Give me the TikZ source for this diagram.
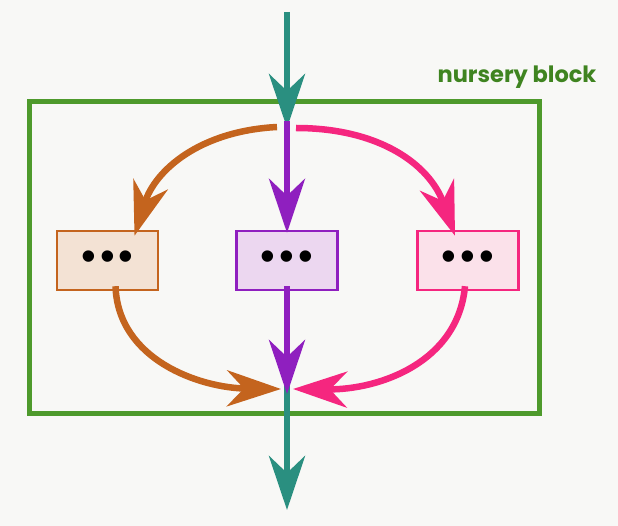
\documentclass[tikz,border=0pt]{standalone}
\usepackage{fontspec}
\setmainfont{Poppins}
\newfontfamily\dotfont{Liberation Sans}
\usetikzlibrary{arrows.meta}
\definecolor{bgc}{HTML}{F8F8F6}
\definecolor{grn}{HTML}{4E9A2C}
\definecolor{grntxt}{HTML}{3F8420}
\definecolor{teal}{HTML}{2A8F80}
\definecolor{org}{HTML}{C4641E}
\definecolor{orgfill}{HTML}{F3E2D4}
\definecolor{pur}{HTML}{8F1FBF}
\definecolor{purfill}{HTML}{ECD7F0}
\definecolor{pnk}{HTML}{F5267F}
\definecolor{pnkfill}{HTML}{FBE1EA}
\tikzset{
  flow/.style={line width=6.5pt, -{Stealth[length=54pt,width=36pt,inset=17pt]}},
  dotbox/.style={draw, line width=2.4pt, minimum width=101pt, minimum height=59pt, inner sep=0pt,
    font=\dotfont\fontsize{42}{42}\selectfont},
}
\newcommand{\dotsrow}{\raisebox{-4pt}{•\hspace{4pt}•\hspace{4pt}•}}
\begin{document}
\begin{tikzpicture}[x=1pt,y=-1pt]
\fill[bgc] (0,0) rectangle (618,526);
\useasboundingbox (0,0) rectangle (618,526);
% nursery block frame
\draw[grn, line width=5pt] (29,102) rectangle (539,413);
\node[grntxt, font=\bfseries\fontsize{22.5}{22.5}\selectfont, anchor=center] (lbl) at (517,77) {nursery block};
% boxes
\node[dotbox, draw=org, fill=orgfill] (lb) at (107.5,260.5) {\dotsrow};
\node[dotbox, draw=pur, fill=purfill] (mb) at (287,260.5) {\dotsrow};
\node[dotbox, draw=pnk, fill=pnkfill] (rb) at (468,260.5) {\dotsrow};
% coordinates
\coordinate (top) at (287,12);
\coordinate (split) at (287,128);
\coordinate (join) at (287,390);
\coordinate (bot) at (287,510);
% teal in/out
\draw[flow, teal] (top) -- (split);
\draw[flow, teal] ([yshift=6pt]join) -- (bot);
% purple
\draw[flow, pur] ([yshift=7pt]split) -- ([yshift=-3pt]mb.north);
\draw[flow, pur] ([yshift=5pt]mb.south) -- ([yshift=-4pt]join);
% orange
\draw[flow, org] ([xshift=-10pt,yshift=1pt]split) .. controls (200,131) and (155,170) .. ([xshift=27pt,yshift=-6pt]lb.north);
\draw[flow, org] ([xshift=8pt,yshift=5pt]lb.south) .. controls (118,360) and (200,388) .. ([xshift=-6pt,yshift=1pt]join);
% pink
\draw[flow, pnk] ([xshift=9pt,yshift=0pt]split) .. controls (380,128) and (430,165) .. ([xshift=-13pt,yshift=-6pt]rb.north);
\draw[flow, pnk] ([xshift=-3pt,yshift=5pt]rb.south) .. controls (458,362) and (380,390) .. ([xshift=6pt,yshift=1pt]join);
\end{tikzpicture}
\end{document}
